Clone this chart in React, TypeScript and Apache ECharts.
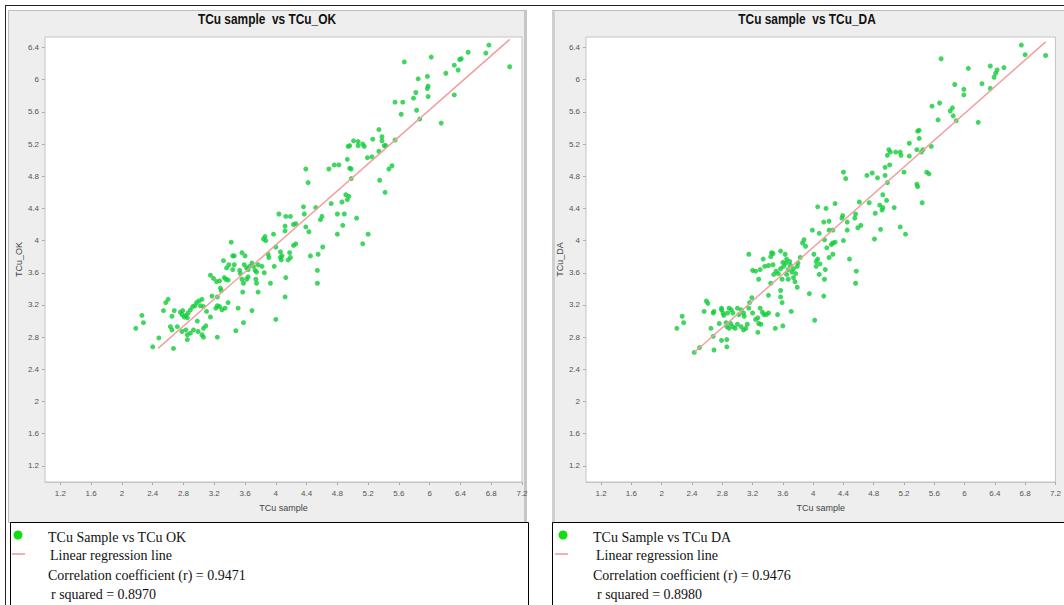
import { useEffect, useRef } from 'react';
import * as echarts from 'echarts';

const xTicks = [1.2, 1.6, 2, 2.4, 2.8, 3.2, 3.6, 4, 4.4, 4.8, 5.2, 5.6, 6, 6.4, 6.8, 7.2];
const yTicks = [1.2, 1.6, 2, 2.4, 2.8, 3.2, 3.6, 4, 4.4, 4.8, 5.2, 5.6, 6, 6.4];

const titleOK = 'TCu sample  vs TCu_OK';
const titleDA = 'TCu sample  vs TCu_DA';
const xName = 'TCu sample';
const yNameOK = 'TCu_OK';
const yNameDA = 'TCu_DA';

const legendOK = ['TCu Sample vs TCu OK', 'Linear regression line', 'Correlation coefficient (r) = 0.9471', 'r squared = 0.8970'];
const legendDA = ['TCu Sample vs TCu DA', 'Linear regression line', 'Correlation coefficient (r) = 0.9476', 'r squared = 0.8980'];

const okPoints = [
  [5.67, 6.22], [6.02, 6.28], [6.77, 6.43], [6.50, 6.34], [6.41, 6.26], [6.39, 6.25], [6.73, 6.33], [7.04, 6.16],
  [6.32, 6.18], [6.37, 6.12], [6.21, 6.08], [5.85, 6.01], [5.97, 6.04], [5.98, 5.92], [5.97, 5.89], [5.82, 5.84],
  [5.79, 5.77], [5.98, 5.79], [5.55, 5.72], [5.65, 5.72], [5.83, 5.62], [5.63, 5.57], [5.87, 5.51], [6.32, 5.81],
  [6.15, 5.46], [5.34, 5.38], [5.38, 5.29], [5.38, 5.24], [5.26, 5.26], [5.55, 5.25], [5.01, 5.24], [4.96, 5.18],
  [4.94, 5.17], [5.07, 5.23], [5.07, 5.18], [5.13, 5.20], [5.15, 5.17], [5.41, 5.18], [5.43, 5.18], [5.34, 5.11],
  [5.19, 5.03], [5.25, 5.04], [4.93, 5.01], [4.96, 4.90], [4.98, 4.89], [4.69, 4.89], [4.76, 4.94], [4.82, 4.94],
  [4.39, 4.89], [4.42, 4.72], [4.98, 4.77], [5.47, 4.89], [5.51, 4.93], [5.35, 4.75], [5.42, 4.60], [4.91, 4.57],
  [4.95, 4.55], [4.93, 4.51], [4.86, 4.48], [4.72, 4.46], [4.36, 4.42], [4.52, 4.41],
  [4.04, 4.33], [4.13, 4.30], [4.19, 4.30], [4.37, 4.33], [4.60, 4.30], [4.58, 4.26], [4.80, 4.33], [4.89, 4.33],
  [5.05, 4.28], [4.26, 4.21], [4.23, 4.20], [4.12, 4.18], [4.12, 4.12], [4.39, 4.17], [4.43, 4.11], [4.87, 4.19],
  [4.80, 4.08], [5.20, 4.08], [5.13, 3.96], [4.61, 3.92], [4.26, 3.96], [4.23, 3.94], [3.86, 4.05], [3.84, 4.02],
  [3.87, 4.00], [3.97, 4.08], [3.42, 3.98], [4.00, 3.92], [4.06, 3.86], [4.08, 3.81], [4.06, 3.79], [4.07, 3.76],
  [4.18, 3.85], [4.19, 3.79], [4.16, 3.76], [3.90, 3.83], [3.91, 3.79], [3.98, 3.68], [3.46, 3.81], [3.44, 3.81],
  [3.56, 3.85], [3.60, 3.81], [3.32, 3.75], [3.39, 3.70], [3.36, 3.66], [3.46, 3.70], [3.44, 3.64], [3.53, 3.63],
  [3.54, 3.59], [3.59, 3.70], [3.62, 3.66], [3.64, 3.64], [3.66, 3.68], [3.69, 3.72], [3.71, 3.68], [3.73, 3.63],
  [3.75, 3.61], [3.77, 3.70], [3.82, 3.68], [3.85, 3.60], [3.74, 3.52], [3.75, 3.47], [3.77, 3.36], [3.93, 3.47],
  [3.64, 3.55], [3.62, 3.52], [3.56, 3.52], [3.58, 3.47], [3.57, 3.36], [3.38, 3.51], [3.15, 3.57], [3.19, 3.53],
  [3.23, 3.49], [3.27, 3.50], [3.33, 3.54], [3.35, 3.52], [3.28, 3.41], [3.29, 3.38], [3.17, 3.31], [3.24, 3.30],
  [4.13, 3.54], [4.12, 3.30], [4.54, 3.63], [4.54, 3.47], [4.45, 3.81], [4.55, 3.83], [4.00, 3.02], [3.69, 3.13],
  [3.58, 2.98], [3.48, 2.88], [3.51, 3.16], [3.38, 3.23], [3.34, 3.16], [3.30, 3.14], [3.27, 3.18], [3.24, 3.19],
  [3.22, 3.16], [3.15, 3.05], [3.24, 2.80], [3.09, 2.94], [3.06, 2.91], [3.04, 2.83], [3.06, 2.80], [2.99, 2.87],
  [2.98, 3.00], [3.04, 3.27], [3.00, 3.25], [2.97, 3.23], [2.95, 3.19], [2.92, 3.18], [2.89, 3.14], [3.02, 3.19],
  [3.06, 3.18], [2.86, 3.10], [2.83, 3.07], [2.85, 3.04], [2.79, 3.13], [2.76, 3.11], [2.78, 3.08], [2.81, 3.05],
  [2.68, 3.13], [2.65, 3.06], [2.60, 3.27], [2.57, 3.23], [2.54, 3.13], [2.63, 2.93], [2.65, 2.89], [2.78, 2.87],
  [2.83, 2.89], [2.85, 2.83], [2.85, 2.77], [2.89, 2.85], [2.93, 2.89], [3.10, 3.12], [2.72, 2.93], [2.67, 2.66],
  [2.48, 2.79], [2.40, 2.68], [2.26, 3.07], [2.28, 2.98], [2.18, 2.91],
];

const daPoints = [
  [5.69, 6.26], [6.75, 6.43], [6.80, 6.31], [7.07, 6.30], [6.05, 6.14], [6.34, 6.17], [6.43, 6.12], [6.41, 6.08],
  [6.39, 6.03], [6.52, 6.15], [5.87, 5.94], [5.99, 5.88], [5.99, 5.81], [6.23, 5.95], [6.34, 5.89], [5.57, 5.67],
  [5.67, 5.71], [5.84, 5.65], [5.81, 5.61], [5.85, 5.55], [5.89, 5.49], [5.65, 5.50], [6.18, 5.47], [5.38, 5.36],
  [5.40, 5.37], [5.40, 5.27], [5.27, 5.21], [5.56, 5.17], [5.00, 5.13], [5.02, 5.10], [4.98, 5.06], [5.09, 5.10],
  [5.15, 5.10], [5.16, 5.06], [5.27, 5.05], [5.37, 5.13], [5.43, 5.10], [5.45, 5.13], [4.95, 4.91], [5.01, 4.94],
  [4.40, 4.85], [4.43, 4.77], [4.71, 4.81], [4.78, 4.84], [4.85, 4.78], [4.95, 4.81], [4.98, 4.72], [5.20, 4.85],
  [5.50, 4.85], [5.53, 4.83], [5.37, 4.70], [5.38, 4.67], [4.92, 4.57], [4.97, 4.50], [4.88, 4.44], [4.92, 4.41],
  [5.44, 4.47], [4.61, 4.48], [4.74, 4.47], [4.29, 4.46], [4.06, 4.42], [4.17, 4.40], [5.07, 4.41],
  [4.91, 4.38], [4.82, 4.34], [4.56, 4.33], [4.55, 4.28], [4.39, 4.31], [4.38, 4.28], [4.45, 4.23], [4.45, 4.13],
  [4.21, 4.24], [4.14, 4.23], [4.21, 4.13], [4.63, 4.19], [4.59, 4.16], [4.89, 4.14], [4.81, 4.02], [5.15, 4.17],
  [5.22, 4.08], [3.99, 4.13], [4.08, 4.09], [4.26, 4.13], [4.15, 4.01], [4.18, 3.91], [4.26, 3.97], [4.29, 3.98],
  [4.24, 3.95], [4.40, 4.00], [3.86, 3.97], [3.88, 4.01], [3.90, 3.93], [4.26, 3.83], [4.21, 3.79], [4.48, 3.77],
  [4.01, 3.83], [4.04, 3.74], [4.09, 3.71], [4.06, 3.77], [4.16, 3.64], [4.08, 3.58], [4.04, 3.68], [4.15, 3.52],
  [4.57, 3.62], [4.56, 3.47], [3.95, 3.34], [4.14, 3.31], [4.02, 3.01], [3.83, 3.79], [3.80, 3.72], [3.79, 3.68],
  [3.74, 3.65], [3.72, 3.61], [3.77, 3.59], [3.74, 3.54], [3.76, 3.49], [3.79, 3.42], [3.69, 3.74], [3.70, 3.69],
  [3.67, 3.64], [3.64, 3.72], [3.61, 3.68], [3.57, 3.65], [3.57, 3.87], [3.63, 3.83], [3.65, 3.77], [3.60, 3.73],
  [3.45, 3.85], [3.47, 3.84], [3.44, 3.80], [3.34, 3.77], [3.36, 3.68], [3.41, 3.69], [3.47, 3.70], [3.51, 3.62],
  [3.54, 3.59], [3.48, 3.58], [3.59, 3.52], [3.65, 3.58], [3.67, 3.52], [3.15, 3.83], [3.20, 3.63], [3.24, 3.62],
  [3.30, 3.64], [3.28, 3.52], [3.44, 3.47], [3.57, 3.38], [3.57, 3.30], [3.59, 3.23], [3.41, 3.32], [3.71, 3.12],
  [3.50, 2.91], [3.60, 2.94], [3.53, 3.08], [3.41, 3.10], [3.38, 3.08], [3.35, 3.08], [3.33, 3.11], [3.30, 3.16],
  [3.27, 3.04], [3.28, 2.97], [3.31, 2.96], [3.19, 3.29], [3.16, 3.23], [3.15, 3.16], [3.20, 3.10], [3.24, 3.02],
  [3.27, 2.86], [3.13, 2.96], [3.11, 2.91], [3.08, 2.89], [3.05, 2.93], [3.00, 2.96], [2.97, 2.91], [2.94, 2.93],
  [2.91, 2.97], [3.00, 3.16], [3.05, 3.14], [3.08, 3.10], [3.09, 3.06], [3.02, 3.08], [2.89, 3.16], [2.92, 3.14],
  [2.94, 3.10], [2.87, 3.10], [2.79, 3.14], [2.81, 3.10], [2.82, 3.07], [2.79, 3.16], [2.69, 3.12], [2.68, 3.10],
  [2.59, 3.25], [2.61, 3.22], [2.56, 3.12], [2.76, 2.97], [2.85, 2.98], [2.86, 2.93], [2.89, 2.91], [2.65, 2.91],
  [2.68, 2.81], [2.79, 2.76], [2.86, 2.77], [2.86, 2.68], [2.69, 2.64], [2.50, 2.67], [2.43, 2.61], [2.27, 3.06],
  [2.29, 2.98], [2.20, 2.91],
];

const okLine = [[2.47, 2.66], [7.04, 6.5]];
const daLine = [[2.43, 2.61], [7.07, 6.47]];

const fmt = (v: number) => String(Math.round(v * 10) / 10);

function xAxis(gridIndex: number) {
  return {
    type: 'value', gridIndex, min: 1.0, max: 7.2,
    name: xName, nameLocation: 'middle', nameGap: 21,
    nameTextStyle: { fontSize: 9, color: '#444' },
    axisLine: { show: true, lineStyle: { color: '#c4c4c4' } },
    axisTick: { show: true, customValues: xTicks, length: 3, lineStyle: { color: '#aaa' } },
    axisLabel: { customValues: xTicks, fontSize: 8, color: '#555', margin: 7, formatter: fmt },
    splitLine: { show: false },
  };
}

function yAxis(gridIndex: number, name: string) {
  return {
    type: 'value', gridIndex, min: 1.0, max: 6.53,
    name, nameLocation: 'middle', nameGap: 22,
    nameTextStyle: { fontSize: 9, color: '#444' },
    axisLine: { show: true, lineStyle: { color: '#c4c4c4' } },
    axisTick: { show: true, customValues: yTicks, length: 3, lineStyle: { color: '#aaa' } },
    axisLabel: { customValues: yTicks, fontSize: 8, color: '#555', margin: 6, formatter: fmt },
    splitLine: { show: false },
  };
}

function legendGraphics(x0: number, dotX: number, lineX: number, textX: number[], lines: string[]) {
  const ys = [537, 555, 575, 594];
  const els: any[] = [
    { type: 'rect', shape: { x: x0 + 0.5, y: 522.5, width: 518, height: 100 }, style: { fill: '#fff', stroke: '#000', lineWidth: 1 }, z: 1 },
    { type: 'circle', shape: { cx: dotX, cy: 535, r: 4.5 }, style: { fill: '#11dd11' }, z: 2 },
    { type: 'line', shape: { x1: lineX, y1: 554, x2: lineX + 13, y2: 554 }, style: { stroke: '#e06666', lineWidth: 1 }, z: 2 },
  ];
  lines.forEach((t, i) => {
    els.push({
      type: 'text', x: textX[i], y: ys[i], z: 2,
      style: { text: t, font: '14px "Liberation Serif"', fill: '#111', textVerticalAlign: 'middle', textAlign: 'left' },
    });
  });
  return els;
}

function titleText(x: number, text: string) {
  return {
    type: 'text', x, y: 19, z: 3, scaleX: 0.85,
    style: { text, font: 'bold 14px "Liberation Sans"', fill: '#111', textAlign: 'center', textVerticalAlign: 'middle' },
  };
}

export default function App() {
  const ref = useRef<HTMLDivElement>(null);
  useEffect(() => {
    if (!ref.current) return;
    const chart = echarts.init(ref.current, null, { renderer: 'svg' });
    const graphics: any[] = [
      { type: 'line', shape: { x1: 5, y1: 5.5, x2: 1064, y2: 5.5 }, style: { stroke: '#222', lineWidth: 1 }, z: 0 },
      { type: 'line', shape: { x1: 5.5, y1: 5, x2: 5.5, y2: 605 }, style: { stroke: '#222', lineWidth: 1 }, z: 0 },
      { type: 'rect', shape: { x: 8.5, y: 10.5, width: 518, height: 512 }, style: { fill: '#eeeeee', stroke: '#bdbdbd', lineWidth: 1 }, z: 0 },
      { type: 'rect', shape: { x: 524, y: 11, width: 3, height: 511 }, style: { fill: '#c6c6c6' }, z: 0 },
      { type: 'rect', shape: { x: 552.5, y: 10.5, width: 520, height: 512 }, style: { fill: '#eeeeee', stroke: '#bdbdbd', lineWidth: 1 }, z: 0 },
      { type: 'rect', shape: { x: 552, y: 11, width: 3, height: 511 }, style: { fill: '#cfcfcf' }, z: 0 },
      titleText(267, titleOK),
      titleText(807, titleDA),
      ...legendGraphics(10, 18, 12, [48, 50, 48, 51], legendOK),
      ...legendGraphics(552, 563, 555, [593, 596, 593, 597], legendDA),
    ];
    chart.setOption({
      animation: false,
      textStyle: { fontFamily: 'Liberation Sans' },
      graphic: { elements: graphics },
      grid: [
        { left: 45, top: 37, width: 477, height: 445, show: true, backgroundColor: '#ffffff', borderColor: '#c4c4c4', borderWidth: 1, z: 1 },
        { left: 586, top: 37, width: 477, height: 445, show: true, backgroundColor: '#ffffff', borderColor: '#c4c4c4', borderWidth: 1, z: 1 },
      ],
      xAxis: [xAxis(0), xAxis(1)],
      yAxis: [yAxis(0, yNameOK), yAxis(1, yNameDA)],
      series: [
        { type: 'scatter', xAxisIndex: 0, yAxisIndex: 0, data: okPoints, symbolSize: 5, itemStyle: { color: '#12cc3a' }, z: 3 },
        { type: 'line', xAxisIndex: 0, yAxisIndex: 0, data: okLine, showSymbol: false, lineStyle: { color: '#f0a0a0', width: 1.5 }, z: 4 },
        { type: 'scatter', xAxisIndex: 1, yAxisIndex: 1, data: daPoints, symbolSize: 5, itemStyle: { color: '#12cc3a' }, z: 3 },
        { type: 'line', xAxisIndex: 1, yAxisIndex: 1, data: daLine, showSymbol: false, lineStyle: { color: '#f0a0a0', width: 1.5 }, z: 4 },
      ],
    });
    return () => chart.dispose();
  }, []);
  return <div ref={ref} style={{ position: 'absolute', left: 0, top: 0, width: 1064, height: 605, background: '#fff' }} />;
}
